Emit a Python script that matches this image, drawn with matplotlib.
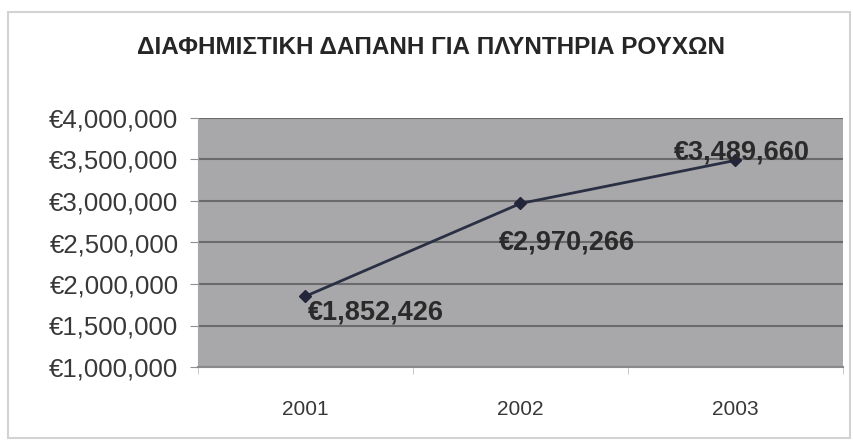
import matplotlib
matplotlib.use("Agg")
import matplotlib.pyplot as plt
from matplotlib.patches import Rectangle
from matplotlib.ticker import FuncFormatter, FixedLocator

years = ["2001", "2002", "2003"]
spending = [1852426, 2970266, 3489660]
label_offsets = [(2, -16, "left"), (46, -39, "center"), (6, 8, "center")]

plt.rcParams["font.family"] = ["Liberation Sans", "DejaVu Sans"]

fig = plt.figure(figsize=(8.54, 4.41), dpi=100)
fig.patch.set_facecolor("white")

# outer chart frame
fig.patches.append(Rectangle((8 / 854, 3 / 441), 842 / 854, 426 / 441,
                             transform=fig.transFigure, fill=False,
                             edgecolor="#d2d2d2", linewidth=1.5))

ax = fig.add_axes([198 / 854, 74 / 441, 645 / 854, 249 / 441])
ax.set_facecolor("#a8a8aa")

x = list(range(1, len(years) + 1))
ax.plot(x, spending, color="#2b2f44", linewidth=2.0, marker="D",
        markersize=6, markerfacecolor="#23263a", markeredgecolor="#23263a",
        zorder=3)

for xi, v, (dx, dy, ha) in zip(x, spending, label_offsets):
    ax.annotate(f"€{v:,}", (xi, v), xytext=(dx, dy), textcoords="offset pixels",
                ha=ha, va="center", fontsize=19.5, fontweight="bold",
                color="#2a2a2a", zorder=4)

ax.set_xlim(0.5, len(years) + 0.5)
ax.set_ylim(1000000, 4000000)
ax.yaxis.set_major_locator(FixedLocator(range(1000000, 4000001, 500000)))
ax.yaxis.set_major_formatter(FuncFormatter(lambda v, p: f"€{int(v):,}"))
ax.set_xticks(x)
ax.set_xticklabels(years)
ax.set_xticks([i + 0.5 for i in range(len(years) + 1)], minor=True)
ax.tick_params(axis="x", which="major", length=0, pad=24, labelsize=15,
               labelcolor="#383838")
ax.tick_params(axis="x", which="minor", length=5, color="#c0c0c0")
ax.tick_params(axis="y", length=6, color="#909090", labelsize=18.5,
               labelcolor="#383838", pad=8)

ax.grid(axis="y", color="#6a6a6c", linewidth=1.5)
ax.set_axisbelow(True)
for side in ["top", "right"]:
    ax.spines[side].set_visible(False)
ax.spines["left"].set_color("#a8a8aa")
ax.spines["bottom"].set_color("#8a8a8a")
ax.spines["bottom"].set_linewidth(1.5)

fig.text(431 / 854, 1 - 48 / 441, "ΔΙΑΦΗΜΙΣΤΙΚΗ ΔΑΠΑΝΗ ΓΙΑ ΠΛΥΝΤΗΡΙΑ ΡΟΥΧΩΝ",
         ha="center", va="center", fontsize=17.5, fontweight="bold",
         color="#262626")

fig.savefig("out.png", dpi=100, facecolor="white")
